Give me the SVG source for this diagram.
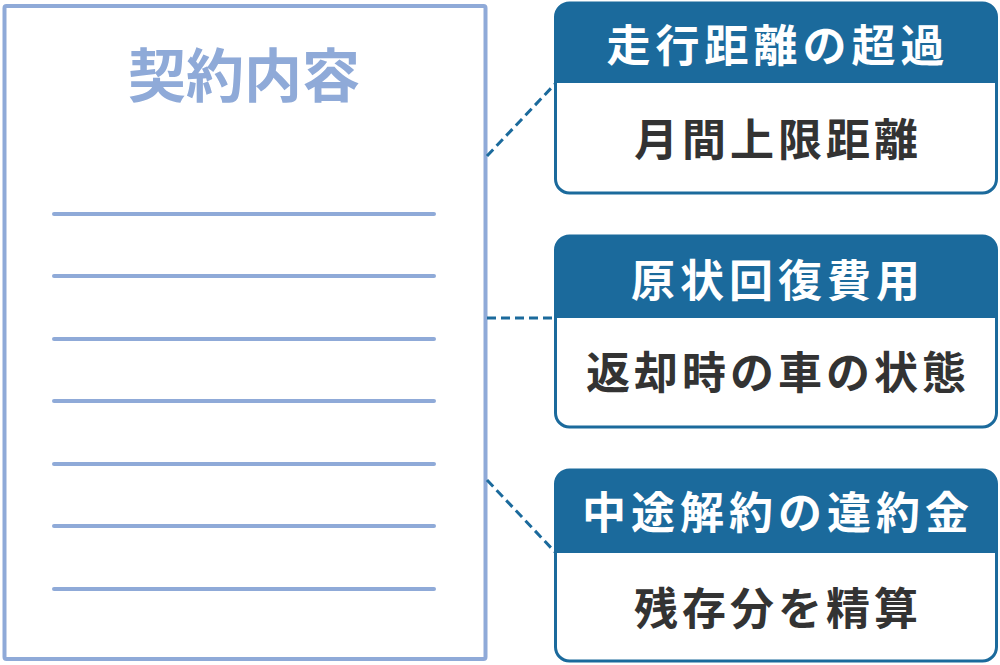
<svg xmlns="http://www.w3.org/2000/svg" width="1000" height="665" viewBox="0 0 1000 665">
<style>
.doc{fill:#fff;stroke:#8faad8;stroke-width:4}
.ln{stroke:#8faad8;stroke-width:4;stroke-linecap:round}
.title{font-family:"Noto Sans CJK JP",sans-serif;font-weight:700;font-size:58px;fill:#8faad8;text-anchor:middle}
.box{fill:#fff;stroke:#1b6a9c;stroke-width:3}
.hdr{fill:#1b6a9c}
.ht{font-family:"Noto Sans CJK JP",sans-serif;font-weight:700;font-size:44px;fill:#fff;text-anchor:middle;letter-spacing:5px}
.bt{font-family:"Noto Sans CJK JP",sans-serif;font-weight:700;font-size:44px;fill:#333;text-anchor:middle;letter-spacing:4px}
.con{stroke:#1b6a9c;stroke-width:3;stroke-dasharray:9 5;fill:none}
</style>
<g id="document">
<rect class="doc" x="4.5" y="6" width="481" height="653" rx="2"/>
<text class="title" x="244" y="97">契約内容</text>
<line class="ln" x1="54" y1="214" x2="434" y2="214"/>
<line class="ln" x1="54" y1="276" x2="434" y2="276"/>
<line class="ln" x1="54" y1="339" x2="434" y2="339"/>
<line class="ln" x1="54" y1="401" x2="434" y2="401"/>
<line class="ln" x1="54" y1="464" x2="434" y2="464"/>
<line class="ln" x1="54" y1="526" x2="434" y2="526"/>
<line class="ln" x1="54" y1="589" x2="434" y2="589"/>
</g>
<g id="connectors">
<line class="con" x1="487" y1="156" x2="555" y2="84"/>
<line class="con" x1="487" y1="318" x2="555" y2="318"/>
<line class="con" x1="487" y1="480" x2="555" y2="552"/>
</g>
<g id="box1">
<rect class="box" x="555.5" y="3" width="441" height="190" rx="14"/>
<path class="hdr" d="M555.5 83 V17 A14 14 0 0 1 569.5 3 H982.5 A14 14 0 0 1 996.5 17 V83 Z"/>
<text class="ht" x="778" y="62">走行距離の超過</text>
<text class="bt" x="778" y="156">月間上限距離</text>
</g>
<g id="box2">
<rect class="box" x="555.5" y="236" width="441" height="191" rx="14"/>
<path class="hdr" d="M555.5 318 V250 A14 14 0 0 1 569.5 236 H982.5 A14 14 0 0 1 996.5 250 V318 Z"/>
<text class="ht" x="778" y="297">原状回復費用</text>
<text class="bt" x="778" y="389">返却時の車の状態</text>
</g>
<g id="box3">
<rect class="box" x="555.5" y="470" width="441" height="191" rx="14"/>
<path class="hdr" d="M555.5 553 V484 A14 14 0 0 1 569.5 470 H982.5 A14 14 0 0 1 996.5 484 V553 Z"/>
<text class="ht" x="778" y="529">中途解約の違約金</text>
<text class="bt" x="778" y="625">残存分を精算</text>
</g>
</svg>
